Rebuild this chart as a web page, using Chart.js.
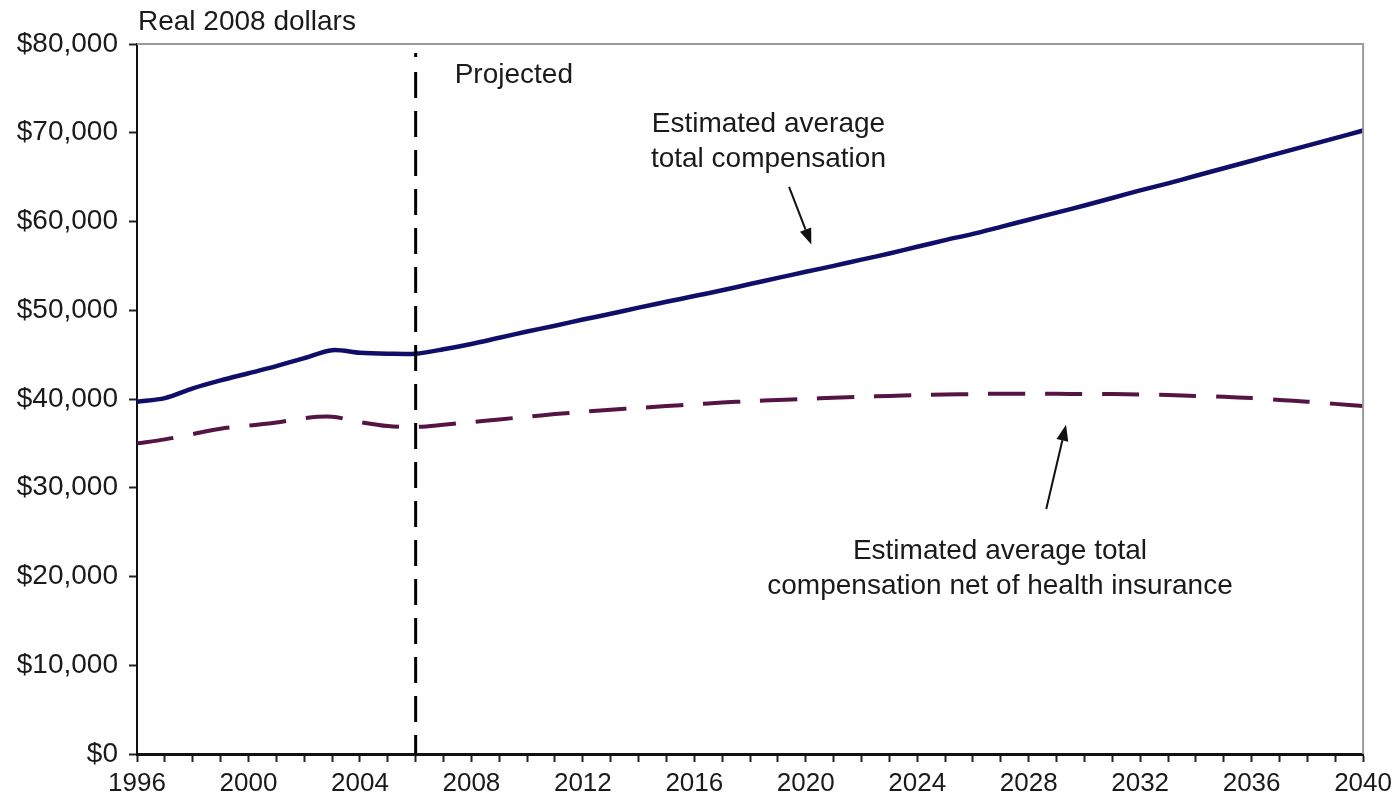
<!DOCTYPE html>
<html>
<head>
<meta charset="utf-8">
<title>Estimated average total compensation</title>
<script src="https://cdn.jsdelivr.net/npm/chart.js@4.4.1/dist/chart.umd.min.js"></script>
<style>
  html, body { margin: 0; padding: 0; background: #fff; }
  #wrap { width: 1398px; height: 809px; }
</style>
</head>
<body>
<div id="wrap"><canvas id="compChart" width="1398" height="809"></canvas></div>
<script>
// years on the x axis
const years = [
    1996, 1997, 1998, 1999, 2000, 2001, 2002, 2003, 2004, 2005,
    2006, 2007, 2008, 2009, 2010, 2011, 2012, 2013, 2014, 2015,
    2016, 2017, 2018, 2019, 2020, 2021, 2022, 2023, 2024, 2025,
    2026, 2027, 2028, 2029, 2030, 2031, 2032, 2033, 2034, 2035,
    2036, 2037, 2038, 2039, 2040
];

// estimated average total compensation (real 2008 dollars)
const totalComp = [
    39700, 40100, 41200, 42100, 42900, 43700, 44600, 45500, 45200, 45100,
    45100, 45600, 46200, 46900, 47600, 48250, 48950, 49600, 50300, 50950,
    51600, 52250, 52950, 53650, 54330, 55000, 55700, 56400, 57150, 57900,
    58600, 59400, 60200, 61000, 61800, 62650, 63500, 64300, 65150, 66000,
    66850, 67700, 68550, 69400, 70250
];

// same, net of health insurance
const netOfHealth = [
    35000, 35450, 36050, 36650, 37000, 37350, 37850, 38000, 37400, 36950,
    36850, 37100, 37400, 37700, 38000, 38300, 38550, 38800, 39000, 39200,
    39400, 39600, 39750, 39900, 40000, 40150, 40250, 40350, 40450, 40500,
    40550, 40600, 40600, 40600, 40550, 40550, 40500, 40450, 40350, 40250,
    40100, 39900, 39700, 39450, 39200
];

const projectedFrom = 2006;
const yTicks = [0, 10000, 20000, 30000, 40000, 50000, 60000, 70000, 80000];

const fontFamily = '"Liberation Sans", Arial, sans-serif';
const textFont = '28px ' + fontFamily;
const textColor = '#1a1a1a';

// annotations placed in data units (year, dollars)
const notes = [
    { lines: ['Projected'], x: 2007.4, y: 76500, align: 'left' },
    { lines: ['Estimated average', 'total compensation'], x: 2018.66, y: 70900, align: 'center' },
    { lines: ['Estimated average total', 'compensation net of health insurance'], x: 2026.97, y: 22800, align: 'center' }
];
const arrows = [
    { from: [2019.4, 63900], to: [2020.2, 57400] },
    { from: [2028.63, 27600], to: [2029.34, 37100] }
];

const overlayPlugin = {
    id: 'overlay',
    afterDraw(chart) {
        const { ctx, chartArea, scales } = chart;
        const xs = scales.x, ys = scales.y;
        ctx.save();

        // grey frame on top and right
        ctx.strokeStyle = '#9a9a9a';
        ctx.lineWidth = 2;
        ctx.beginPath();
        ctx.moveTo(chartArea.left, chartArea.top);
        ctx.lineTo(chartArea.right, chartArea.top);
        ctx.lineTo(chartArea.right, chartArea.bottom);
        ctx.stroke();

        // projection divider: small dot at the top then long dashes
        const px = xs.getPixelForValue(projectedFrom);
        ctx.strokeStyle = '#000';
        ctx.lineWidth = 3;
        ctx.beginPath();
        ctx.moveTo(px, chartArea.top + 9);
        ctx.lineTo(px, chartArea.top + 13);
        ctx.stroke();
        ctx.setLineDash([26, 13]);
        ctx.beginPath();
        ctx.moveTo(px, chartArea.top + 28);
        ctx.lineTo(px, chartArea.bottom);
        ctx.stroke();
        ctx.setLineDash([]);

        // unit label above the axis
        ctx.font = textFont;
        ctx.fillStyle = textColor;
        ctx.textAlign = 'left';
        ctx.textBaseline = 'middle';
        ctx.fillText('Real 2008 dollars', chartArea.left + 1, chartArea.top - 22);

        // text notes
        notes.forEach(n => {
            ctx.textAlign = n.align;
            const nx = xs.getPixelForValue(n.x);
            const ny = ys.getPixelForValue(n.y);
            n.lines.forEach((line, i) => ctx.fillText(line, nx, ny + i * 35));
        });

        // arrows
        ctx.strokeStyle = '#111';
        ctx.fillStyle = '#111';
        ctx.lineWidth = 2;
        arrows.forEach(a => {
            const x1 = xs.getPixelForValue(a.from[0]), y1 = ys.getPixelForValue(a.from[1]);
            const x2 = xs.getPixelForValue(a.to[0]), y2 = ys.getPixelForValue(a.to[1]);
            const ang = Math.atan2(y2 - y1, x2 - x1);
            const head = 16, half = 6;
            const bx = x2 - head * Math.cos(ang), by = y2 - head * Math.sin(ang);
            ctx.beginPath();
            ctx.moveTo(x1, y1);
            ctx.lineTo(bx, by);
            ctx.stroke();
            ctx.beginPath();
            ctx.moveTo(x2, y2);
            ctx.lineTo(bx + half * Math.sin(ang), by - half * Math.cos(ang));
            ctx.lineTo(bx - half * Math.sin(ang), by + half * Math.cos(ang));
            ctx.closePath();
            ctx.fill();
        });

        ctx.restore();
    }
};

const ctx = document.getElementById('compChart').getContext('2d');
new Chart(ctx, {
    type: 'line',
    data: {
        datasets: [
            {
                label: 'Estimated average total compensation',
                data: years.map((yr, i) => ({ x: yr, y: totalComp[i] })),
                borderColor: '#0f0f6a',
                borderWidth: 4.5,
                pointRadius: 0,
                tension: 0.3,
                fill: false
            },
            {
                label: 'Estimated average total compensation net of health insurance',
                data: years.map((yr, i) => ({ x: yr, y: netOfHealth[i] })),
                borderColor: '#561444',
                borderWidth: 4,
                borderDash: [37, 20],
                pointRadius: 0,
                tension: 0.3,
                fill: false
            }
        ]
    },
    options: {
        responsive: false,
        devicePixelRatio: 1,
        animation: false,
        layout: { padding: { top: 44, right: 32, left: 0, bottom: 0 } },
        plugins: {
            legend: { display: false },
            tooltip: { enabled: false }
        },
        scales: {
            x: {
                type: 'linear',
                min: years[0],
                max: years[years.length - 1],
                afterFit: (scale) => { scale.height = 55; },
                afterBuildTicks: (scale) => { scale.ticks = years.map(v => ({ value: v })); },
                ticks: {
                    autoSkip: false,
                    maxRotation: 0,
                    padding: 6,
                    color: textColor,
                    font: { family: fontFamily, size: 26 },
                    callback: (v) => ((v - years[0]) % 4 === 0 ? String(v) : '')
                },
                grid: {
                    drawOnChartArea: false,
                    drawTicks: true,
                    tickLength: 8,
                    tickWidth: 2,
                    tickColor: '#222'
                },
                border: { display: true, color: '#111', width: 3 }
            },
            y: {
                min: 0,
                max: 80000,
                afterFit: (scale) => { scale.width = 137; },
                afterBuildTicks: (scale) => { scale.ticks = yTicks.map(v => ({ value: v })); },
                ticks: {
                    padding: 11,
                    color: textColor,
                    font: { family: fontFamily, size: 28 },
                    callback: (v) => '$' + v.toLocaleString('en-US')
                },
                grid: {
                    drawOnChartArea: false,
                    drawTicks: true,
                    tickLength: 8,
                    tickWidth: 2,
                    tickColor: '#222'
                },
                border: { display: true, color: '#111', width: 2 }
            }
        }
    },
    plugins: [overlayPlugin]
});
</script>
</body>
</html>
